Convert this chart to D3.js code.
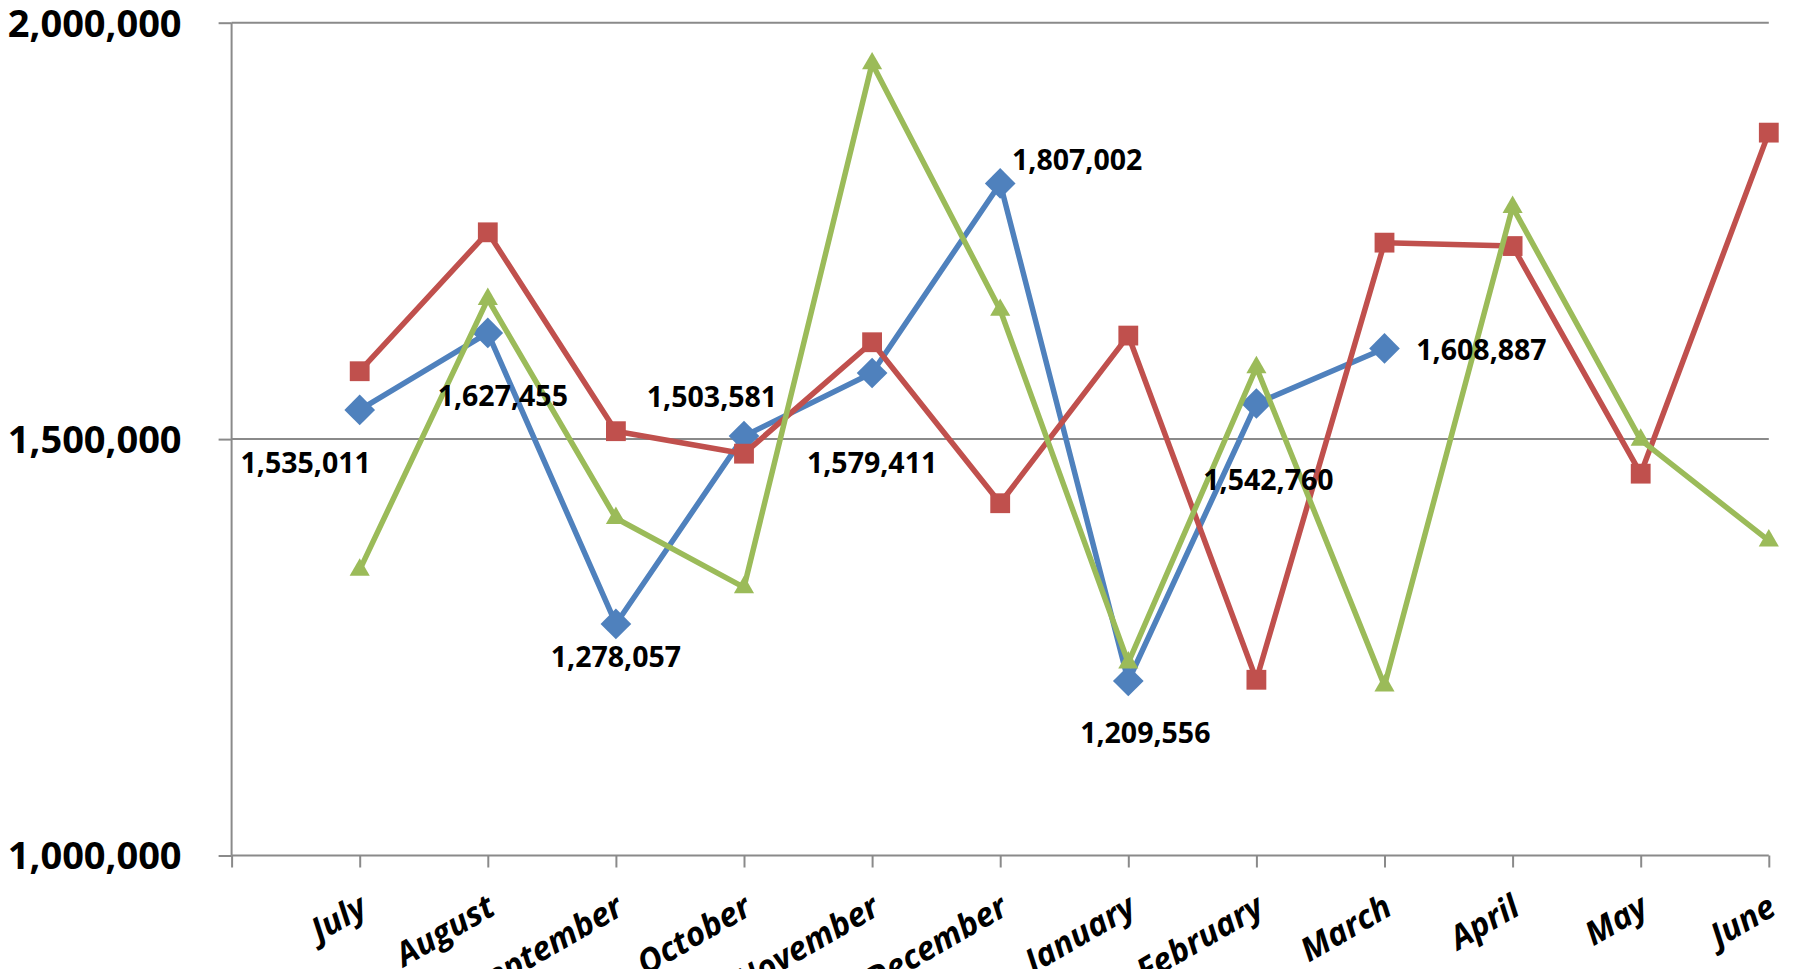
<!DOCTYPE html>
<html>
<head>
<meta charset="utf-8">
<script src="https://cdn.jsdelivr.net/npm/d3@7"></script>
<style>
  html, body { margin: 0; padding: 0; background: #fff; }
  text { font-family: "Open Sans", Roboto, sans-serif; font-weight: bold; fill: #000; }
</style>
</head>
<body>
<svg id="chart" width="1798" height="969"></svg>
<script>
// months run July -> June
const months = ["July", "August", "September", "October", "November", "December",
                "January", "February", "March", "April", "May", "June"];

const blueVals = [1535011, 1627455, 1278057, 1503581, 1579411, 1807002,
                  1209556, 1542760, 1608887, null, null, null];
const redVals = [1581500, 1748300, 1509500, 1482500, 1616300, 1423000,
                 1624300, 1211000, 1735900, 1731800, 1458500, 1868000];
const greenVals = [1343000, 1668000, 1405000, 1322000, 1951000, 1655000,
                   1231500, 1586000, 1204000, 1778600, 1499000, 1378000];

const yTicks = [1000000, 1500000, 2000000];

// hand-placed data label offsets for the blue series (dx from point, dy to baseline)
const labelOffsets = [[-54, 63], [15, 73], [0, 43], [-32, -29], [0, 100],
                      [77, -13], [17, 62], [12, 87], [97, 12]];

const svg = d3.select('#chart');

const plot = {left: 231.6, right: 1768.8, top: 22.7, bottom: 855.5};

// categories sit on tick marks 1..12, tick 0 is the axis itself
const x = d3.scaleLinear().domain([0, 12]).range([plot.left, plot.right]);
const y = d3.scaleLinear().domain([1000000, 2000000]).range([plot.bottom, plot.top]);

const gridColor = '#8a8a8a';

// y axis ticks + labels
const yAxis = d3.axisLeft(y)
    .tickValues(yTicks)
    .tickSize(13)
    .tickFormat(d3.format(','));

const yg = svg.append('g')
    .attr('transform', `translate(${plot.left},0)`)
    .call(yAxis);
yg.select('.domain').remove();
yg.selectAll('.tick line').attr('stroke', gridColor).attr('stroke-width', 2);
yg.selectAll('.tick text')
    .attr('x', -50)
    .attr('dy', '0.35em')
    .style('font-size', '38px');

// horizontal gridlines
svg.append('g').selectAll('line')
    .data(yTicks)
    .join('line')
        .attr('x1', plot.left)
        .attr('x2', plot.right)
        .attr('y1', d => y(d))
        .attr('y2', d => y(d))
        .attr('stroke', gridColor)
        .attr('stroke-width', 2);

svg.append('line')
    .attr('x1', plot.left).attr('x2', plot.left)
    .attr('y1', plot.top).attr('y2', plot.bottom)
    .attr('stroke', gridColor).attr('stroke-width', 2);

// x axis ticks and rotated month labels
const xAxis = d3.axisBottom(x)
    .tickValues(d3.range(13))
    .tickSize(12)
    .tickFormat(d => d === 0 ? '' : months[d - 1]);

const xg = svg.append('g')
    .attr('transform', `translate(0,${plot.bottom})`)
    .call(xAxis);
xg.select('.domain').remove();
xg.selectAll('.tick line').attr('stroke', gridColor).attr('stroke-width', 2);
xg.selectAll('.tick text')
    .attr('x', 0).attr('y', 0).attr('dy', 0)
    .attr('text-anchor', 'end')
    .attr('transform', 'translate(9,58) rotate(-30)')
    .style('font-size', '33px')
    .style('font-style', 'italic');

// series, drawn in order so green ends up on top
const series = [
    {name: 'blue', values: blueVals, color: '#4F81BD', marker: d3.symbolDiamond2, size: 600},
    {name: 'red', values: redVals, color: '#C0504D', marker: d3.symbolSquare2, size: 500},
    {name: 'green', values: greenVals, color: '#9BBB59', marker: d3.symbolTriangle2, size: 290}
];

const line = d3.line()
    .defined(d => d != null)
    .x((d, i) => x(i + 1))
    .y(d => y(d));

series.forEach(s => {
    const g = svg.append('g').attr('class', 'series-' + s.name);
    g.append('path')
        .datum(s.values)
        .attr('d', line)
        .attr('fill', 'none')
        .attr('stroke', s.color)
        .attr('stroke-width', 5.5)
        .attr('stroke-linejoin', 'round');

    const pts = s.values.map((v, i) => ({v, i})).filter(d => d.v != null);
    g.selectAll('path.marker')
        .data(pts)
        .join('path')
            .attr('class', 'marker')
            .attr('d', d3.symbol().type(s.marker).size(s.size))
            .attr('transform', d => `translate(${x(d.i + 1)},${y(d.v)})`)
            .attr('fill', s.color)
            .attr('stroke', 'none');
});

// data labels for the blue series
const fmt = d3.format(',');
svg.append('g').selectAll('text')
    .data(blueVals.map((v, i) => ({v, i})).filter(d => d.v != null))
    .join('text')
        .attr('x', d => x(d.i + 1) + labelOffsets[d.i][0])
        .attr('y', d => y(d.v) + labelOffsets[d.i][1])
        .attr('text-anchor', 'middle')
        .style('font-size', '28.5px')
        .text(d => fmt(d.v));
</script>
</body>
</html>
